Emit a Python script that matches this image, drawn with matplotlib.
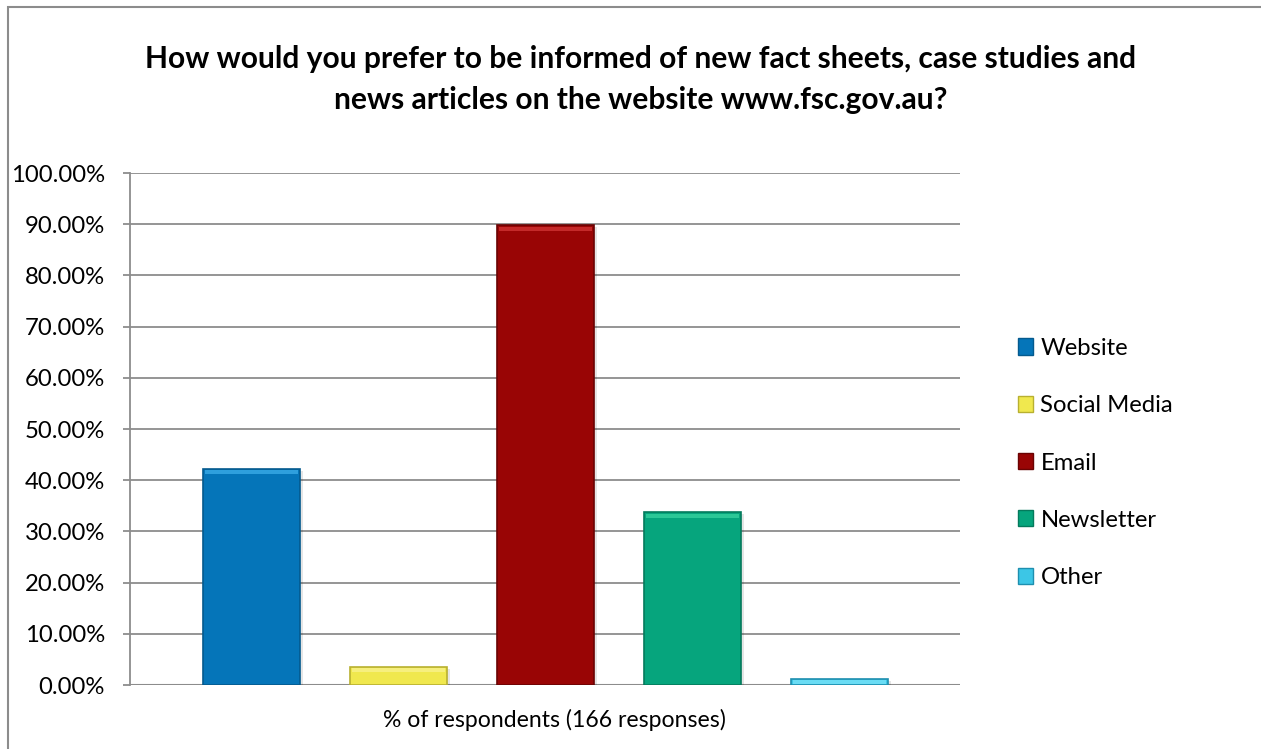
import matplotlib
matplotlib.use("Agg")
import matplotlib.pyplot as plt
from matplotlib.patches import Rectangle
from matplotlib.ticker import FuncFormatter

categories = ["Website", "Social Media", "Email", "Newsletter", "Other"]
values = [0.4217, 0.0361, 0.8976, 0.3373, 0.0120]
colors = ["#0575B9", "#F0E84E", "#990505", "#06A57D", "#3CC6E6"]
top_colors = ["#2E9FDD", "#F6EF7E", "#C42A2A", "#2CC797", "#6ADCF4"]
edge_colors = ["#045A8E", "#B8B030", "#6A0303", "#047A5C", "#1E8FAF"]
xlabel = "% of respondents (166 responses)"
title = ("How would you prefer to be informed of new fact sheets, case studies and\n"
         "news articles on the website www.fsc.gov.au?")
yticks = [0.0, 0.1, 0.2, 0.3, 0.4, 0.5, 0.6, 0.7, 0.8, 0.9, 1.0]

plt.rcParams['font.family'] = ['Lato', 'DejaVu Sans']

W, H = 1261, 749
fig = plt.figure(figsize=(W / 100, H / 100), dpi=100)
fig.patch.set_facecolor("white")

# figure border
fig.patches.append(Rectangle((8 / W, -0.02), 1.05, (H - 6.5) / H + 0.02,
                             transform=fig.transFigure, fill=False,
                             edgecolor="#8C8C8C", linewidth=1.5, zorder=0))

ax = fig.add_axes([130 / W, 64 / H, 830 / W, 512 / H])
xs = list(range(len(categories)))
bw = 0.66
# shadow
ax.bar([x + 0.02 for x in xs], values, width=bw, bottom=-0.004,
       color="#000000", alpha=0.10, zorder=2, linewidth=0)
bars = ax.bar(xs, values, width=bw, color=colors, edgecolor=edge_colors,
              linewidth=1.2, zorder=3)
# bevel highlight at top
d = 0.008
ax.bar(xs, [d] * len(xs), width=bw * 0.96,
       bottom=[v - d * 1.3 for v in values], color=top_colors, linewidth=0,
       zorder=4)

ax.set_xlim(-0.83, 4.82)
ax.set_ylim(0, 1.0)
ax.set_yticks(yticks)
ax.yaxis.set_major_formatter(FuncFormatter(lambda v, p: f"{v * 100:.2f}%"))
ax.tick_params(axis="y", direction="out", length=5, width=1.3, color="#8C8C8C",
               labelsize=17.2, labelcolor="#000000", pad=13)
ax.set_xticks([])
ax.grid(axis="y", color="#8C8C8C", linewidth=1.3, zorder=1)
ax.set_axisbelow(True)
for s in ["top", "right", "bottom"]:
    ax.spines[s].set_visible(False)
ax.spines["left"].set_color("#8C8C8C")
ax.spines["left"].set_linewidth(1.3)
ax.axhline(0, color="#8C8C8C", linewidth=1.5, zorder=1)

ax.set_xlabel(xlabel, fontsize=16.6, color="#000000")
ax.xaxis.set_label_coords(0.511, -35 / 512)
ax.xaxis.label.set_va("center")

fig.text(641 / W, 1 - 79.5 / H, title, ha="center", va="center",
         fontsize=21.6, fontweight="bold", linespacing=1.6)

handles = [Rectangle((0, 0), 1, 1, facecolor=c, edgecolor=e, linewidth=1)
           for c, e in zip(colors, edge_colors)]
fig.legend(handles, categories, loc="center left",
           bbox_to_anchor=(996 / W, 1 - 463 / H), frameon=False,
           fontsize=17.2, handlelength=0.66, handleheight=0.66,
           handletextpad=0.3, labelspacing=1.52)

fig.savefig("out.png", dpi=100)
